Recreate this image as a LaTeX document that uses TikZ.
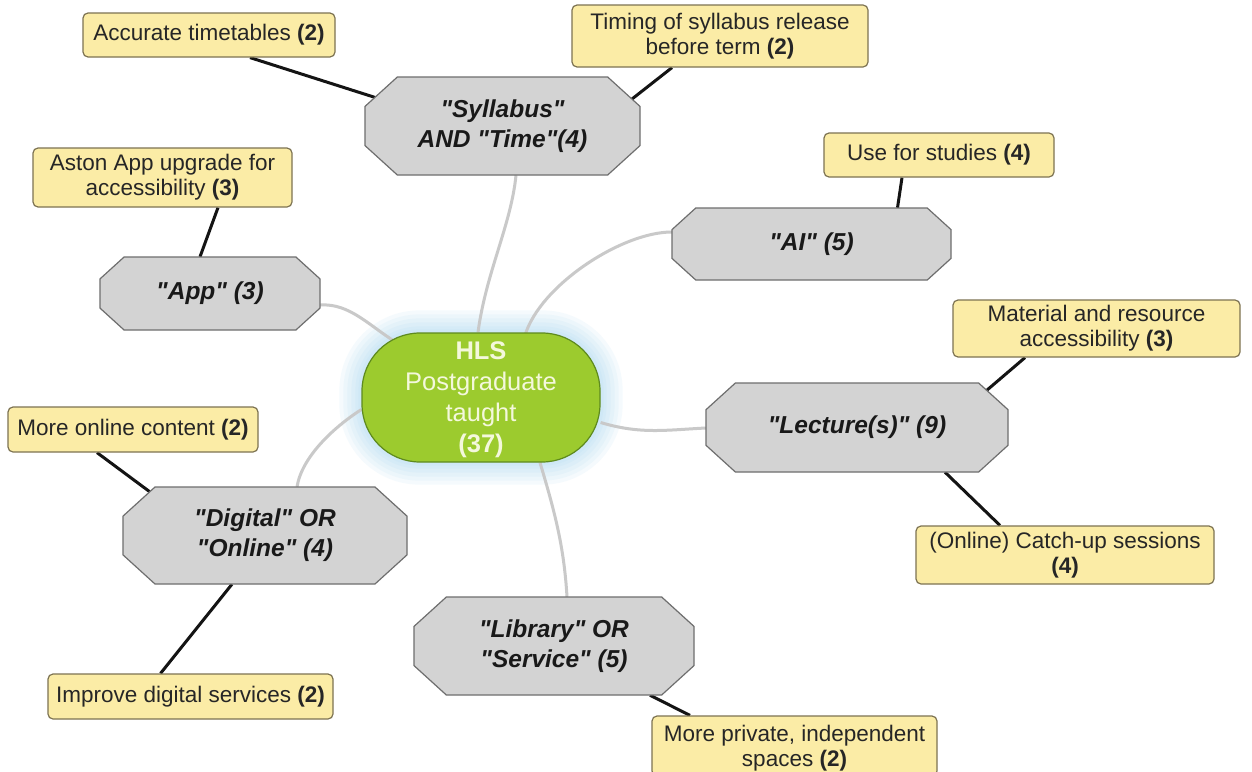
\documentclass[tikz,border=0pt]{standalone}
\usepackage{fontspec}
\setmainfont{Liberation Sans}[Ligatures=TeXOff]
\usetikzlibrary{backgrounds}
\definecolor{yfill}{HTML}{FBECA6}
\definecolor{ydraw}{HTML}{7D7352}
\definecolor{ofill}{HTML}{D3D3D3}
\definecolor{odraw}{HTML}{6E6E6E}
\definecolor{gfill}{HTML}{9CCB2E}
\definecolor{gdraw}{HTML}{5E8A1E}
\definecolor{gtext}{HTML}{F4F8DC}
\definecolor{glink}{HTML}{C9C9C9}
\definecolor{glow}{HTML}{9FD3F0}
\newcommand\mkoct[6]{%
  \pgfmathsetmacro\octhw{#4/2}\pgfmathsetmacro\octhh{#5/2}%
  \pgfmathsetmacro\octcx{0.33*#5}\pgfmathsetmacro\octcy{0.3*#5}%
  \draw[octline] ({#2-\octhw+\octcx},{#3-\octhh}) -- ({#2+\octhw-\octcx},{#3-\octhh}) -- ({#2+\octhw},{#3-\octhh+\octcy}) -- ({#2+\octhw},{#3+\octhh-\octcy}) -- ({#2+\octhw-\octcx},{#3+\octhh}) -- ({#2-\octhw+\octcx},{#3+\octhh}) -- ({#2-\octhw},{#3+\octhh-\octcy}) -- ({#2-\octhw},{#3-\octhh+\octcy}) -- cycle;
  \node[octtext, minimum width=#4pt, minimum height=#5pt] (#1) at (#2,#3) {#6};}
\begin{document}
\begin{tikzpicture}[x=1pt,y=-1pt,
  ybox/.style={draw=ydraw, fill=yfill, line width=1.2pt, rounded corners=5pt, align=center, inner sep=0pt, font=\fontsize{22.5}{25}\selectfont, text=black!85},
  octline/.style={draw=odraw, fill=ofill, line width=1.2pt},
  octtext/.style={align=center, inner sep=0pt, font=\bfseries\itshape\fontsize{24.5}{30}\selectfont, text=black!90},
  centre/.style={draw=gdraw, fill=gfill, line width=1.2pt, rounded corners=58pt, align=center, inner sep=0pt, text=gtext, font=\fontsize{25.5}{31}\selectfont},
  glink/.style={draw=glink, line width=3pt},
  blink/.style={draw=black!92, line width=3pt}]
\useasboundingbox (0,0) rectangle (1252,771);
\clip (0,0) rectangle (1252,771);

% centre
\node[centre, minimum width=238pt, minimum height=129pt] (C) at (481,397.5) {};
\node[centre, draw=none, fill=none] (Ct) at (481,400) {\textbf{HLS}\\Postgraduate\\taught\\\textbf{(37)}};

% octagons
\mkoct{S}{502.5}{126}{275}{98}{"Syllabus"\\AND "Time"(4)}
\mkoct{P}{210}{293.5}{220}{73}{"App" (3)}
\mkoct{A}{811.5}{244}{279}{72}{"AI" (5)}
\mkoct{L}{857}{427.5}{302}{89}{"Lecture(s)" (9)}
\mkoct{D}{265}{535.5}{284}{97}{"Digital" OR\\"Online" (4)}
\mkoct{B}{554}{646}{280}{98}{"Library" OR\\"Service" (5)}

% yellow boxes
\node[ybox, minimum width=252pt, minimum height=44pt] (y1) at (209,35) {Accurate timetables \textbf{(2)}};
\node[ybox, minimum width=296pt, minimum height=62pt] (y2) at (720,36) {Timing of syllabus release\\before term \textbf{(2)}};
\node[ybox, minimum width=259pt, minimum height=59pt] (y3) at (162.5,177.5) {Aston App upgrade for\\accessibility \textbf{(3)}};
\node[ybox, minimum width=230pt, minimum height=44pt] (y4) at (939,155) {Use for studies \textbf{(4)}};
\node[ybox, minimum width=287pt, minimum height=57pt] (y5) at (1096.5,328.5) {Material and resource\\accessibility \textbf{(3)}};
\node[ybox, minimum width=298pt, minimum height=58pt] (y6) at (1065,555) {(Online) Catch-up sessions\\\textbf{(4)}};
\node[ybox, minimum width=250pt, minimum height=45pt] (y7) at (133,429.5) {More online content \textbf{(2)}};
\node[ybox, minimum width=285pt, minimum height=45pt] (y8) at (190.5,696.5) {Improve digital services \textbf{(2)}};
\node[ybox, minimum width=285pt, minimum height=60pt, text depth=0pt] (y9) at (794.5,746) {More private, independent\\spaces \textbf{(2)}};

\begin{scope}[on background layer]
  \fill[white] (0,0) rectangle (1252,771);
  % glow
  \foreach \g in {22,18,14,10,6,3}{
    \fill[glow, opacity=0.10, rounded corners={58pt+\g pt}]
      ([shift={(-\g,-\g)}]C.north west) rectangle ([shift={(\g,\g)}]C.south east);
  }
  % grey connectors
  \draw[glink] ([xshift=-3pt]C.north) .. controls +(8,-60) and +(-5,50) .. ([xshift=13.5pt]S.south);
  \draw[glink] ([shift={(44,3)}]C.north) .. controls +(15,-50) and +(-50,0) .. ([yshift=12pt]A.west);
  \draw[glink] ([shift={(38,12)}]C.north west) .. controls +(-30,-18) and +(30,-2) .. ([yshift=-11.5pt]P.east);
  \draw[glink] ([yshift=-25pt]C.east) .. controls +(40,12) and +(-40,2) .. ([yshift=-0.5pt]L.west);
  \draw[glink] ([yshift=-12pt]C.west) .. controls +(-28,18) and +(5,-30) .. ([xshift=32pt]D.north);
  \draw[glink] ([xshift=59pt]C.south) .. controls +(15,50) and +(-3,-50) .. ([xshift=13pt]B.north);
  % black connectors
  \draw[blink] ([xshift=41pt]y1.south) -- ([shift={(12,-28)}]S.west);
  \draw[blink] ([xshift=-48pt]y2.south) -- ([shift={(-12,-24)}]S.east);
  \draw[blink] ([xshift=55.5pt]y3.south) -- ([xshift=-10pt]P.north);
  \draw[blink] ([xshift=-37pt]y4.south) -- ([xshift=86pt]A.north);
  \draw[blink] ([xshift=-71.5pt]y5.south) -- ([shift={(128,9)}]L.north);
  \draw[blink] ([xshift=88pt]L.south) -- ([xshift=-65pt]y6.north);
  \draw[blink] ([xshift=-36pt]y7.south) -- ([shift={(27,5)}]D.north west);
  \draw[blink] ([xshift=-33pt]D.south) -- ([xshift=-30pt]y8.north);
  \draw[blink] ([xshift=96pt]B.south) -- ([xshift=-104.5pt]y9.north);
\end{scope}
\end{tikzpicture}
\end{document}
